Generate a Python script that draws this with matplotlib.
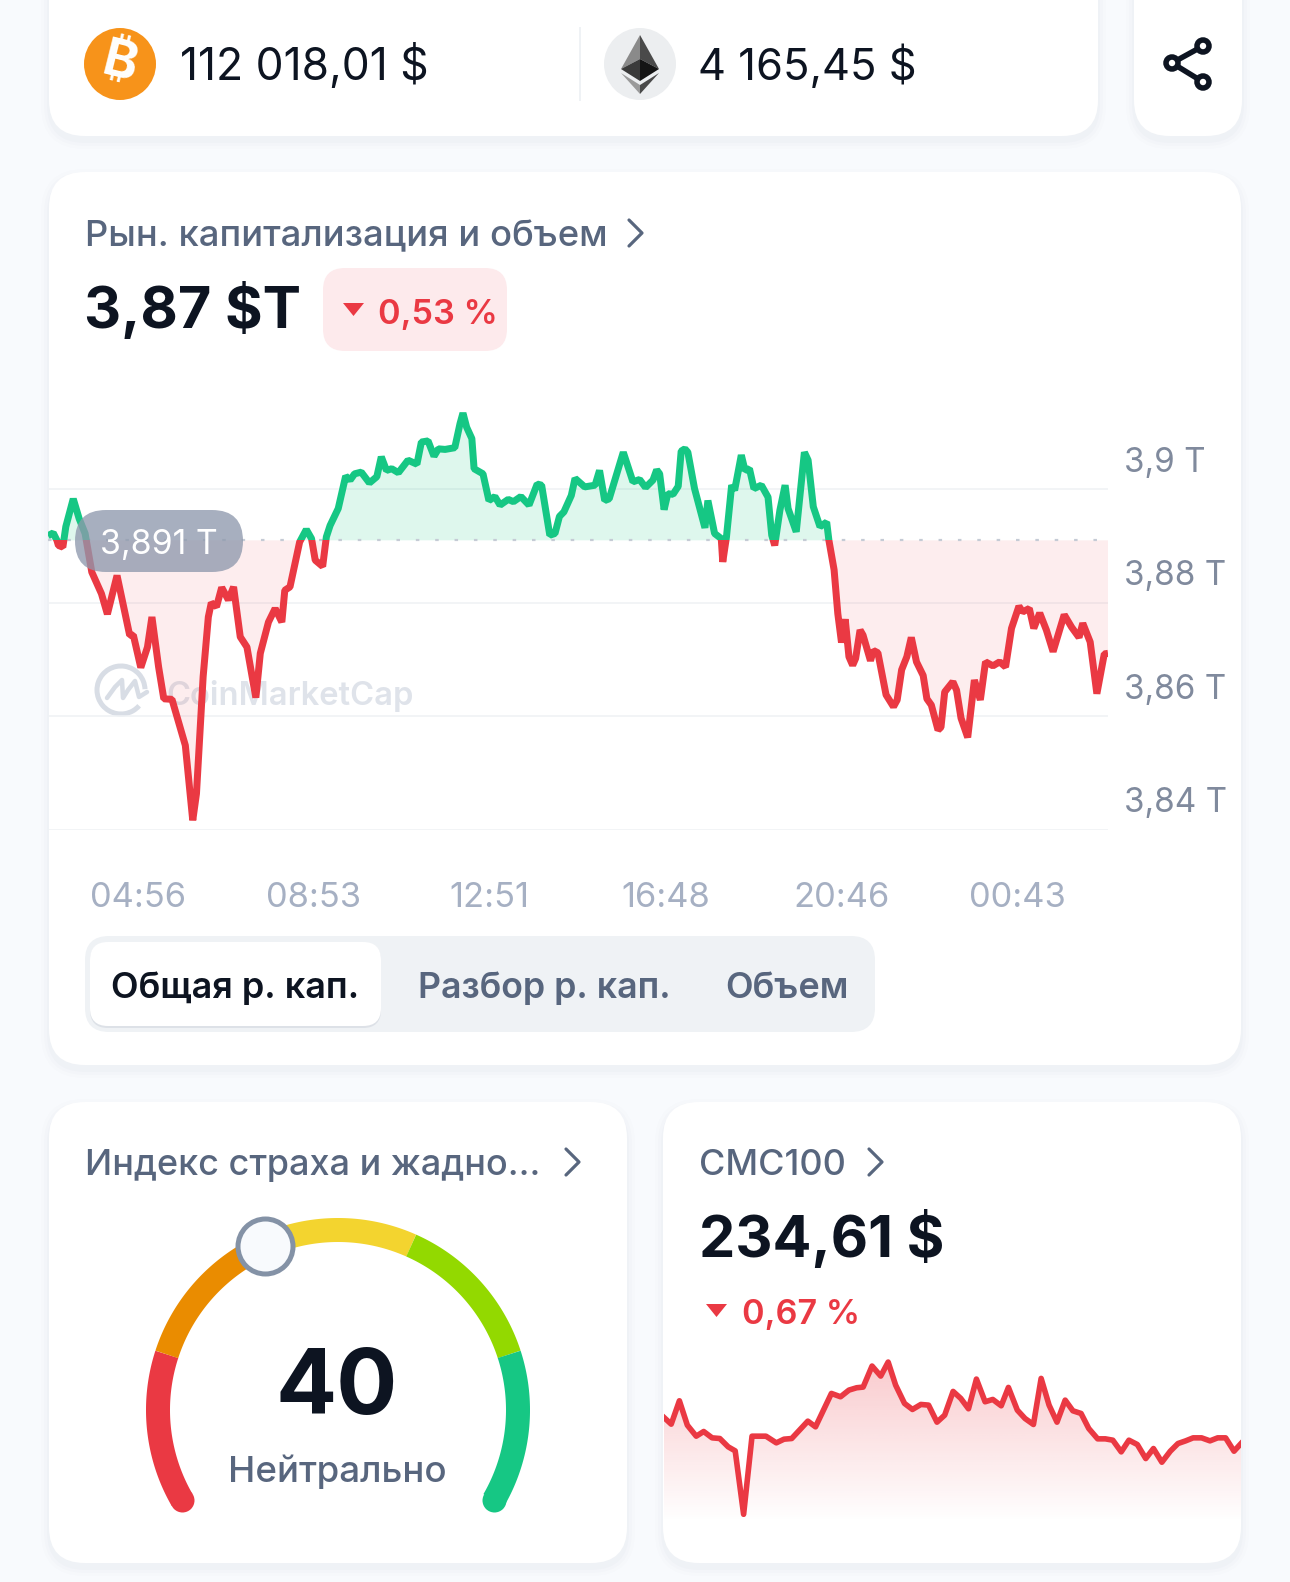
import matplotlib
matplotlib.use("Agg")
import matplotlib.pyplot as plt
from matplotlib.patches import FancyBboxPatch, Polygon, Circle, Rectangle, Arc
from matplotlib.transforms import ScaledTranslation
import numpy as np

plt.rcParams["font.family"] = "Inter"

# Market cap series: minutes since the start of the day window, value in trillions.
market_minutes = [
	0, 7, 12, 14, 20, 24, 34, 42, 50, 59, 72, 80, 93, 110, 115, 125, 134, 140, 149, 156, 167, 185, 195, 200,
	209, 216, 220, 227, 234, 243, 250, 259, 268, 280, 286, 297, 306, 315, 319, 326, 339, 348, 355, 360, 370,
	375, 380, 391, 401, 407, 413, 422, 433, 443, 449, 456, 463, 472, 485, 497, 503, 512, 520, 526, 535, 548,
	555, 559, 564, 571, 574, 586, 594, 602, 609, 620, 627, 637, 648, 659, 665, 676, 683, 689, 695, 705, 710,
	723, 737, 743, 750, 756, 775, 788, 797, 805, 815, 820, 824, 830, 835, 842, 849, 853, 858, 862, 871, 885,
	889, 898, 907, 909, 914, 921, 925, 934, 939, 945, 951, 961, 970, 975, 979, 986, 993, 997, 1008, 1019,
	1024, 1031, 1040, 1049, 1052, 1059, 1064, 1069, 1074, 1079, 1084, 1088, 1094, 1098, 1108, 1112, 1118,
	1129, 1139, 1144, 1150, 1157, 1163, 1170, 1179, 1184, 1190, 1199, 1203, 1208, 1219, 1224, 1230, 1239,
	1248, 1256, 1263, 1273, 1282, 1290, 1298, 1308, 1313, 1322, 1328, 1336, 1345, 1354, 1369, 1379, 1389,
	1394, 1404, 1413, 1423, 1428,
]
market_values = [
	3.8918, 3.8923, 3.8910, 3.8901, 3.8898, 3.8934, 3.8983, 3.8948, 3.8922, 3.8854, 3.8816, 3.8780, 3.8848,
	3.8743, 3.8743, 3.8686, 3.8722, 3.8775, 3.8687, 3.8631, 3.8630, 3.8549, 3.8417, 3.8464, 3.8670, 3.8775,
	3.8800, 3.8793, 3.8827, 3.8805, 3.8828, 3.8740, 3.8722, 3.8633, 3.8711, 3.8766, 3.8790, 3.8766, 3.8822,
	3.8828, 3.8907, 3.8929, 3.8913, 3.8875, 3.8864, 3.8916, 3.8936, 3.8966, 3.9023, 3.9016, 3.9027, 3.9030,
	3.9011, 3.9022, 3.9057, 3.9033, 3.9036, 3.9029, 3.9051, 3.9044, 3.9083, 3.9085, 3.9058, 3.9071, 3.9070,
	3.9073, 3.9115, 3.9134, 3.9109, 3.9089, 3.9036, 3.9027, 3.8980, 3.8987, 3.8972, 3.8982, 3.8978, 3.8987,
	3.8972, 3.9009, 3.9007, 3.8919, 3.8922, 3.8952, 3.8960, 3.8989, 3.9019, 3.9004, 3.9007, 3.9033, 3.8980,
	3.8983, 3.9065, 3.9013, 3.9017, 3.9003, 3.9016, 3.9034, 3.9027, 3.8964, 3.8992, 3.8991, 3.9005, 3.9067,
	3.9071, 3.9065, 3.9001, 3.8932, 3.8980, 3.8922, 3.8913, 3.8872, 3.8916, 3.9007, 3.8998, 3.9060, 3.9033,
	3.9036, 3.9001, 3.9007, 3.8986, 3.8919, 3.8901, 3.8963, 3.9007, 3.8966, 3.8925, 3.9065, 3.9051, 3.8969,
	3.8934, 3.8942, 3.8910, 3.8858, 3.8781, 3.8730, 3.8771, 3.8705, 3.8690, 3.8702, 3.8752, 3.8743, 3.8698,
	3.8716, 3.8712, 3.8638, 3.8617, 3.8629, 3.8682, 3.8705, 3.8739, 3.8696, 3.8672, 3.8631, 3.8620, 3.8576,
	3.8581, 3.8643, 3.8661, 3.8646, 3.8597, 3.8563, 3.8664, 3.8629, 3.8696, 3.8689, 3.8696, 3.8687, 3.8755,
	3.8794, 3.8784, 3.8790, 3.8755, 3.8782, 3.8752, 3.8714, 3.8779, 3.8757, 3.8739, 3.8764, 3.8731, 3.8640,
	3.8710, 3.8711,
]
market_base = 3.891
market_yticks = [3.84, 3.86, 3.88, 3.90]
market_ylabels = ["3,84 T", "3,86 T", "3,88 T", "3,9 T"]
market_xticks = [121, 358, 595, 832, 1069, 1306]
market_xlabels = ["04:56", "08:53", "12:51", "16:48", "20:46", "00:43"]

# CMC100 sparkline: hours into the day, price in dollars.
cmc_hours = [
	0.00, 0.30, 0.64, 0.97, 1.34, 1.65, 2.00, 2.32, 2.67, 2.96, 3.31, 3.66, 4.24, 4.67, 4.99, 5.31, 5.98, 6.30,
	6.96, 7.34, 7.69, 8.01, 8.28, 8.65, 9.01, 9.32, 9.63, 10.00, 10.33, 10.68, 11.00, 11.35, 11.67, 12.02,
	12.34, 12.66, 12.99, 13.35, 13.67, 14.02, 14.32, 14.69, 15.01, 15.36, 15.68, 16.01, 16.34, 16.68, 17.00,
	17.34, 17.66, 18.03, 18.35, 18.66, 19.01, 19.33, 19.68, 20.03, 20.35, 20.70, 21.05, 21.37, 21.69, 22.00,
	22.35, 22.70, 23.02, 23.35, 23.70, 23.99,
]
cmc_values = [
	236.17, 235.77, 237.17, 235.71, 235.05, 235.33, 234.95, 234.91, 234.41, 234.17, 230.37, 235.05, 235.05,
	234.65, 234.87, 234.91, 235.95, 235.61, 237.61, 237.41, 237.81, 237.95, 237.99, 239.25, 238.65, 239.49,
	238.11, 237.01, 236.65, 236.95, 236.91, 235.89, 236.31, 237.73, 237.31, 236.69, 238.47, 237.11, 237.25,
	236.87, 237.97, 236.61, 236.11, 235.75, 238.51, 236.91, 235.89, 237.21, 236.57, 236.41, 235.51, 234.89,
	234.89, 234.81, 234.11, 234.81, 234.55, 233.71, 234.31, 233.49, 234.15, 234.61, 234.77, 234.95, 234.95,
	234.77, 234.95, 234.95, 234.15, 234.61,
]

# Fear and greed gauge.
gauge_bounds = [0, 20, 40, 60, 80, 100]
gauge_colors = ["#ea3943", "#ea8c00", "#f3d42f", "#93d900", "#16c784"]
gauge_value = 40

W, H = 1290, 1582
BG = "#f8fafd"
DARK = "#0d1421"
GREY = "#58667e"
AXIS_GREY = "#808a9d"
LIGHT_GREY = "#a6b0c3"
GREEN = "#16c784"
RED = "#ea3943"


def pt(px):
	"""Convert pixels to points at dpi 100."""
	return px * 0.72


# Make an axes from a pixel rectangle measured from the top left of the image.
def px_axes(x0, y0, x1, y1, zorder):
	ax = fig.add_axes([x0 / W, 1 - y1 / H, (x1 - x0) / W, (y1 - y0) / H], zorder=zorder)
	ax.patch.set_visible(False)
	for spine in ax.spines.values():
		spine.set_visible(False)
	return ax


def box(ax, x0, y0, x1, y1, r, color, alpha=1.0, zorder=1):
	ax.add_patch(FancyBboxPatch(
		(x0, y0), x1 - x0, y1 - y0,
		boxstyle=f"round,pad=0,rounding_size={r}",
		facecolor=color, edgecolor="none", alpha=alpha, zorder=zorder,
	))


# White card with a very soft shadow under it.
def card(ax, x0, y0, x1, y1, r=36):
	for grow, alpha in [(8, 0.012), (5, 0.014), (2, 0.018)]:
		box(ax, x0 - grow, y0 - grow + 5, x1 + grow, y1 + grow + 5, r + grow, "#58667e", alpha)
	box(ax, x0, y0, x1, y1, r, "white", zorder=2)


def label(ax, x, y, s, size, color=DARK, weight="normal", ha="left", **kwargs):
	return ax.text(x, y, s, fontsize=pt(size), color=color, fontweight=weight, ha=ha, va="center_baseline", zorder=5, **kwargs)


def chevron(ax, x, y):
	ax.plot([x, x + 13, x], [y - 13, y, y + 13], color=GREY, lw=pt(3.2), solid_capstyle="round", solid_joinstyle="round", zorder=5)


fig = plt.figure(figsize=(W / 100, H / 100), dpi=100, facecolor=BG)

# Page layer in pixel coordinates: cards, texts, logos.
page = px_axes(0, 0, W, H, 0)
page.set_xlim(0, W)
page.set_ylim(H, 0)
page.axis("off")

card(page, 49, -40, 1098, 136)
card(page, 1134, -40, 1242, 136)
card(page, 49, 172, 1241, 1065)
card(page, 49, 1102, 627, 1563)
card(page, 663, 1102, 1241, 1563)

# Top bar with the BTC and ETH prices.
page.add_patch(Circle((120, 64), 36, facecolor="#f7931a", edgecolor="none", zorder=5))
page.text(120, 64, "\u20bf", fontsize=pt(52), fontfamily=["Inter", "Roboto", "Noto Sans", "Open Sans", "Lato"], fontweight="bold", color="white", rotation=-14, ha="center", va="center", zorder=6)
label(page, 180, 62, "112 018,01 $", 44.4)
page.plot([580, 580], [28, 100], color="#eff2f5", lw=pt(2), zorder=5)
page.add_patch(Circle((640, 64), 36, facecolor="#eceef0", edgecolor="none", zorder=5))
eth_parts = [
	([(640, 35), (621, 69), (640, 59)], "#8a8a8a"),
	([(640, 35), (659, 69), (640, 59)], "#4a4a4a"),
	([(640, 59), (621, 69), (640, 81)], "#3a3a3a"),
	([(640, 59), (659, 69), (640, 81)], "#141414"),
	([(640, 85), (621, 73), (640, 94)], "#9a9a9a"),
	([(640, 85), (659, 73), (640, 94)], "#4a4a4a"),
]
for points, color in eth_parts:
	page.add_patch(Polygon(points, closed=True, facecolor=color, edgecolor="none", zorder=6))
label(page, 698, 62, "4 165,45 $", 43.5)

# Share icon.
page.plot([1203, 1172, 1203], [46, 63, 82], color=DARK, lw=pt(5.5), zorder=5)
for cx, cy in [(1203, 46), (1172, 63), (1203, 82)]:
	page.add_patch(Circle((cx, cy), 6, facecolor="white", edgecolor=DARK, lw=pt(5.5), zorder=6))

# Market cap header.
label(page, 85, 233, "Рын. капитализация и объем", 36.4, GREY, "medium")
chevron(page, 629, 233)
label(page, 84, 305, "3,87 $T", 57.5, DARK, "bold")
box(page, 323, 268, 507, 351, 22, "#fdeaec", zorder=3)
page.add_patch(Polygon([(343, 303), (364, 303), (353.5, 316)], closed=True, facecolor=RED, edgecolor="none", zorder=5))
label(page, 378, 311, "0,53 %", 34.2, RED, "semibold")

# CoinMarketCap watermark sits under the chart.
page.add_patch(Arc((121, 690), 48, 48, theta1=41, theta2=358, edgecolor="#d8dde5", lw=pt(5), zorder=3))
page.plot([107, 115, 122, 123, 128, 135, 139, 147], [698, 687, 680, 698, 690, 681, 697, 692], color="#d8dde5", lw=pt(4.5), solid_joinstyle="round", solid_capstyle="round", zorder=3)
label(page, 166, 692, "CoinMarketCap", 32.7, "#dfe3ea", "semibold")

# Range tabs.
box(page, 85, 936, 875, 1032, 24, "#eff2f5", zorder=3)
box(page, 90, 943, 381, 1028, 18, "#dde1e7", zorder=3)
box(page, 90, 942, 381, 1026, 18, "white", zorder=4)
label(page, 235, 985, "Общая р. кап.", 36, DARK, "semibold", ha="center")
label(page, 544, 985, "Разбор р. кап.", 35.7, GREY, "semibold", ha="center")
label(page, 787, 985, "Объем", 36, GREY, "semibold", ha="center")

# Lower card headers.
label(page, 85, 1162, "Индекс страха и жадно...", 36, GREY, "medium")
chevron(page, 566, 1162)
label(page, 337, 1381, "40", 90.5, DARK, "bold", ha="center")
label(page, 337, 1468, "Нейтрально", 36.7, GREY, "medium", ha="center")
label(page, 699, 1162, "CMC100", 36, GREY, "medium")
chevron(page, 869, 1162)
label(page, 699, 1233, "234,61 $", 57.6, DARK, "bold")
page.add_patch(Polygon([(706, 1304), (727, 1304), (716.5, 1317)], closed=True, facecolor=RED, edgecolor="none", zorder=5))
label(page, 742, 1311, "0,67 %", 34.2, RED, "semibold")

# Main market cap chart; 3.90 sits at y=489 and 3.84 at y=830 on the image.
ax = px_axes(48, 400, 1108, 830, 1)
x = np.array(market_minutes, dtype=float)
y = np.array(market_values)
ax.set_xlim(-0.0, 1428)
ax.set_ylim(3.84, 3.9157)

ax.set_yticks(market_yticks, market_ylabels)
ax.yaxis.tick_right()
ax.set_xticks(market_xticks, market_xlabels)
ax.tick_params(axis="both", length=0)
ax.tick_params(axis="x", pad=pt(52), labelsize=pt(34.5), labelcolor=LIGHT_GREY)
ax.tick_params(axis="y", pad=pt(16), labelsize=pt(33.3), labelcolor=AXIS_GREY)
shift = ScaledTranslation(0, 30 / 100, fig.dpi_scale_trans)
for tick_label in ax.get_yticklabels():
	tick_label.set_transform(tick_label.get_transform() + shift)
ax.grid(axis="y", color="#eff2f5", lw=pt(1.6), zorder=0)
ax.set_axisbelow(True)

ax.fill_between(x, market_base, y, where=y >= market_base, interpolate=True, facecolor=GREEN, alpha=0.14, edgecolor="none", zorder=1)
ax.fill_between(x, market_base, y, where=y <= market_base, interpolate=True, facecolor=RED, alpha=0.085, edgecolor="none", zorder=1)
ax.axhline(market_base, color="#c5cbd5", lw=pt(2.2), ls=(0, (1.6, 7.2)), zorder=1.5)

# The same line twice, each colour clipped to its side of the opening price.
up_line, = ax.plot(x, y, color=GREEN, lw=pt(7), solid_joinstyle="bevel", solid_capstyle="butt", zorder=3)
down_line, = ax.plot(x, y, color=RED, lw=pt(7), solid_joinstyle="bevel", solid_capstyle="butt", zorder=3)
up_line.set_clip_path(Rectangle((0, market_base), 1428, 1, transform=ax.transData))
down_line.set_clip_path(Rectangle((0, market_base - 1), 1428, 1, transform=ax.transData))

# Current price pill lies over the line.
over = px_axes(0, 0, W, H, 3)
over.set_xlim(0, W)
over.set_ylim(H, 0)
over.axis("off")
box(over, 75, 510, 243, 572, 31, "#8f99ad", alpha=0.78, zorder=2)
label(over, 159, 542, "3,891 T", 34, "white", ha="center")

# Gauge, drawn from the 0-100 scale onto a 240 degree arc.
gauge = px_axes(130, 1190, 550, 1530, 1)
gauge.set_xlim(-208, 212)
gauge.set_ylim(-120, 220)
gauge.set_xticks([])
gauge.set_yticks([])


def gauge_xy(v):
	angle = np.radians(210 - np.asarray(v, dtype=float) * 2.4)
	return 180 * np.cos(angle), 180 * np.sin(angle)


for start, stop, color in zip(gauge_bounds[:-1], gauge_bounds[1:], gauge_colors):
	gx, gy = gauge_xy(np.linspace(start, stop, 60))
	gauge.plot(gx, gy, color=color, lw=pt(24), solid_capstyle="butt", zorder=2)
for v, color in [(gauge_bounds[0], gauge_colors[0]), (gauge_bounds[-1], gauge_colors[-1])]:
	gx, gy = gauge_xy(v)
	gauge.plot([gx], [gy], "o", color=color, ms=pt(24), mew=0, zorder=2)
gx, gy = gauge_xy(gauge_value)
gauge.plot([gx], [gy], "o", mfc=BG, mec="#8492a6", ms=pt(55), mew=pt(5), zorder=3)

# CMC100 sparkline with a pink fade under it.
spark = px_axes(664, 1340, 1241, 1522, 1)
hx = np.array(cmc_hours)
hy = np.array(cmc_values)
spark_floor = 229.91
spark_top = 240.81
fade = np.zeros((256, 2, 4))
fade[..., :3] = matplotlib.colors.to_rgb(RED)
fade[..., 3] = np.linspace(0.30, 0.0, 256)[:, None]
area = spark.fill_between(hx, spark_floor, hy, facecolor="none", edgecolor="none")
image = spark.imshow(fade, extent=[hx[0], hx[-1], spark_floor, spark_top], aspect="auto", zorder=1)
image.set_clip_path(area.get_paths()[0], transform=spark.transData)
spark.plot(hx, hy, color=RED, lw=pt(5.6), solid_joinstyle="round", zorder=2)
spark.set_xlim(hx[0], hx[-1])
spark.set_ylim(spark_floor, spark_top)
spark.set_xticks([])
spark.set_yticks([])

fig.savefig("out.png", dpi=100, facecolor=BG)
